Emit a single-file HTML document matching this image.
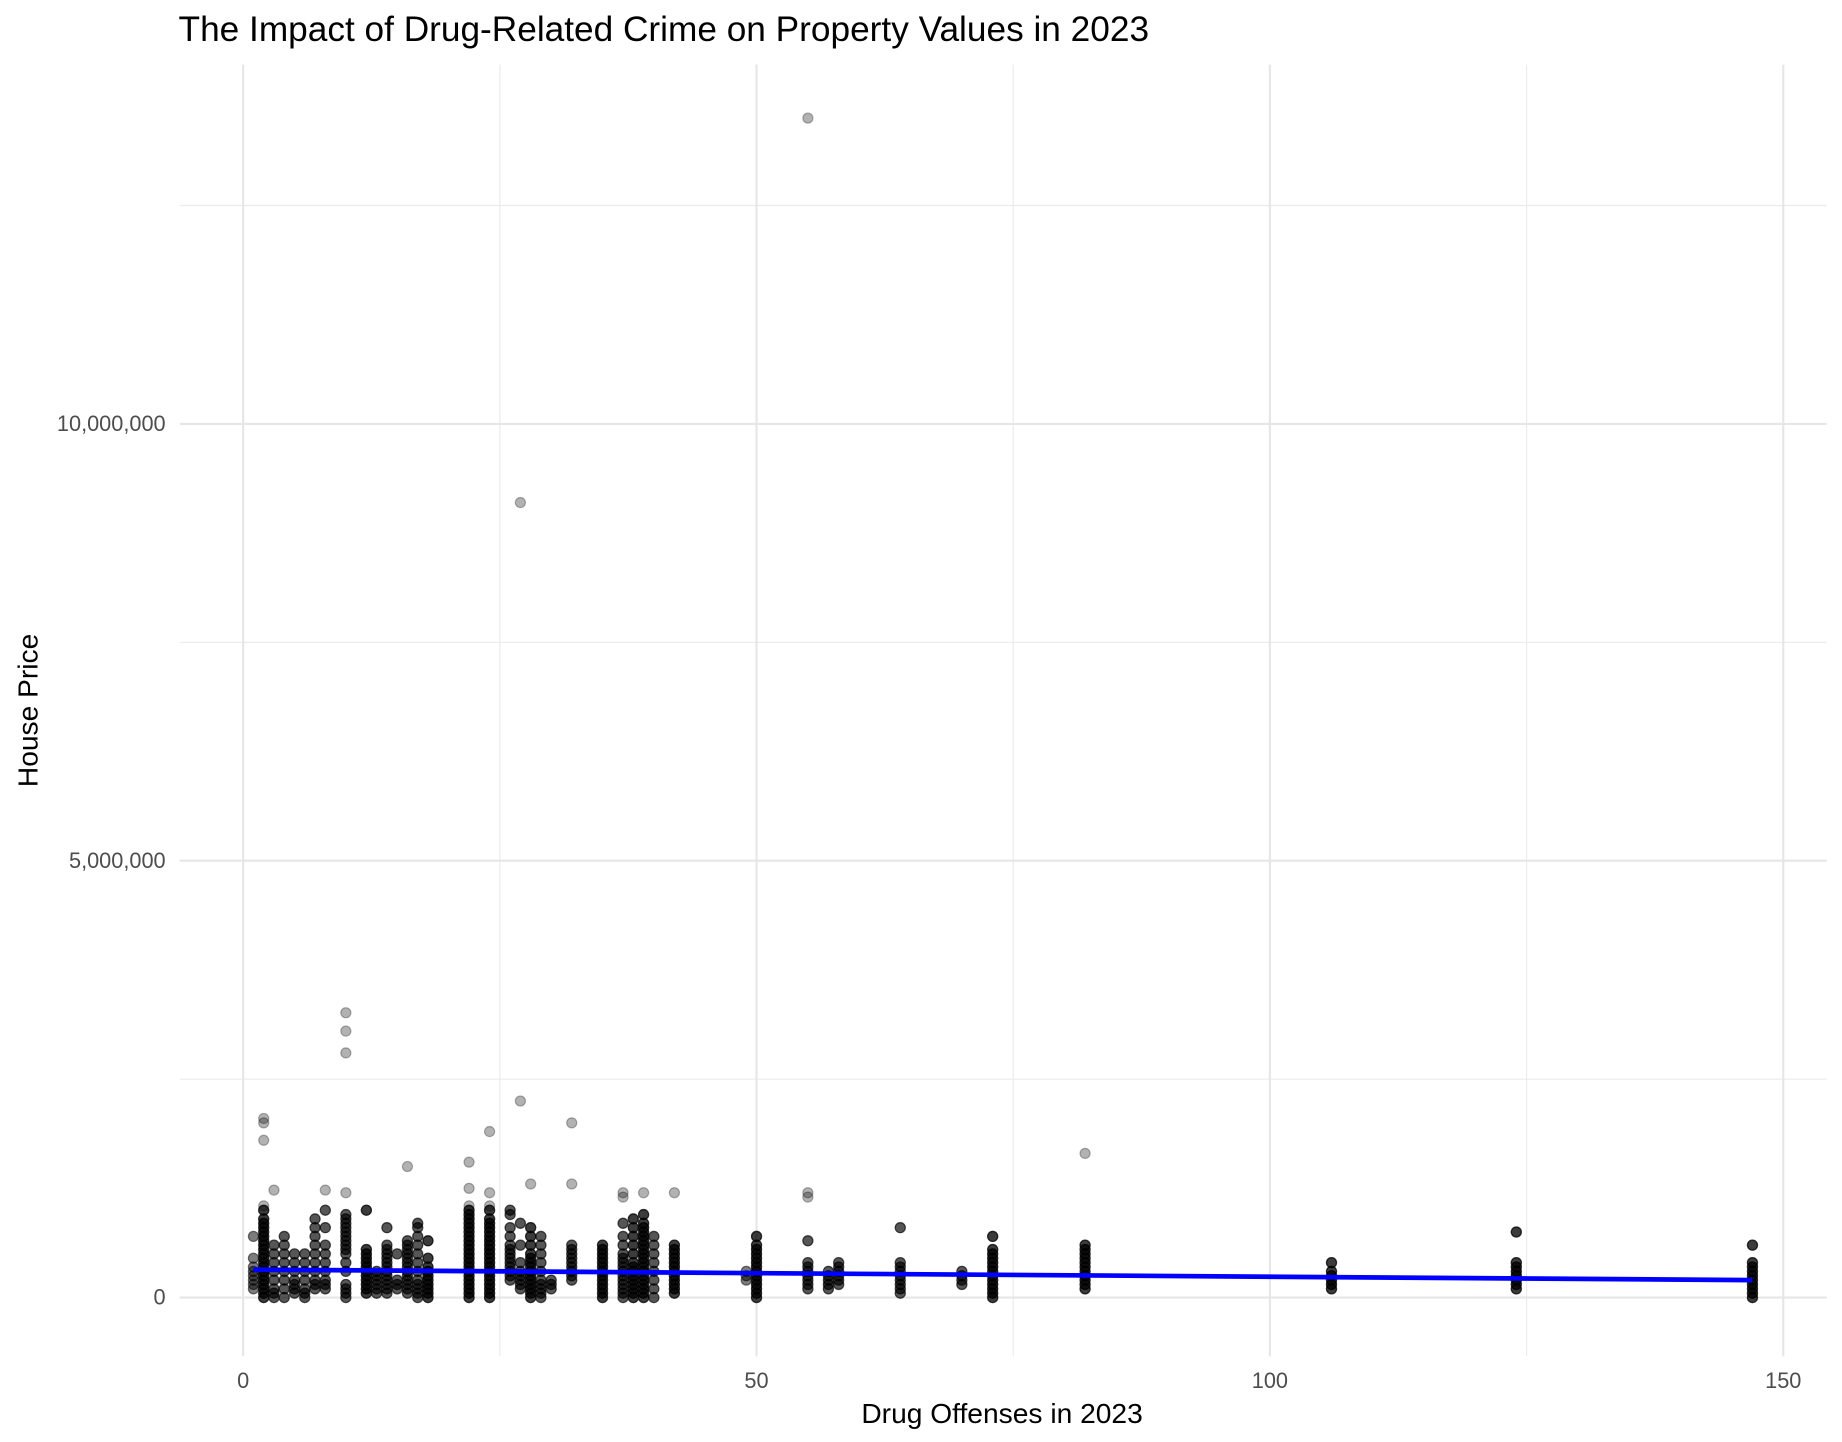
<!DOCTYPE html>
<html><head><meta charset="utf-8"><style>
html,body{margin:0;padding:0;background:#fff;}
svg{display:block;font-family:"Liberation Sans",Arial,sans-serif;}
</style></head><body>
<svg id="chart" width="1842" height="1442" viewBox="0 0 1568 1228" preserveAspectRatio="none" xmlns="http://www.w3.org/2000/svg">
<rect width="1568" height="1228" fill="#fff"/>
<text x="152" y="35" font-size="30" fill="#000">The Impact of Drug-Related Crime on Property Values in 2023</text>
<g id="grid"></g>
<g id="points"></g>
<g id="fit"></g>
<g id="axes"></g>
<text x="853" y="1212" font-size="24" text-anchor="middle" fill="#000">Drug Offenses in 2023</text>
<text transform="translate(32,605) rotate(-90)" font-size="24" text-anchor="middle" fill="#000">House Price</text>
</svg>
<script>
const xTicks = [0, 50, 100, 150];
const xTickLabels = ["0", "50", "100", "150"];
const yTicks = [0, 5, 10];
const yTickLabels = ["0", "5,000,000", "10,000,000"];
const xMinor = [25, 75, 125];
const yMinor = [2.5, 7.5, 12.5];
const offenses = [1,2,3,4,5,6,7,8,10,12,13,14,15,16,17,18,22,24,26,27,28,29,30,32,35,37,38,39,40,42,49,50,55,57,58,64,70,73,82,106,124,147];
const stack = [2,4,3,3,3,3,3,3,3,4,3,3,3,3,3,4,4,4,3,3,4,3,3,3,4,3,4,4,3,4,2,4,3,3,3,3,3,4,4,4,4,4];
const prices = [
[0.1,0.15,0.2,0.25,0.3,0.35,0.45,0.7],
[0,0.05,0.1,0.15,0.2,0.25,0.3,0.35,0.4,0.45,0.5,0.55,0.6,0.65,0.7,0.75,0.8,0.85,0.9,1.0,1.05,1.8,2.0,2.05],
[0,0.05,0.1,0.2,0.3,0.4,0.5,0.6,1.23],
[0,0.1,0.2,0.3,0.4,0.5,0.6,0.7],
[0.05,0.1,0.15,0.2,0.3,0.4,0.5],
[0,0.05,0.1,0.2,0.3,0.4,0.5],
[0.1,0.15,0.2,0.3,0.4,0.5,0.6,0.7,0.8,0.9],
[0.1,0.15,0.2,0.3,0.4,0.5,0.6,0.8,1.0,1.23],
[0,0.05,0.1,0.15,0.3,0.4,0.5,0.55,0.6,0.65,0.7,0.75,0.8,0.85,0.9,0.95,1.2,2.8,3.05,3.26],
[0.05,0.1,0.15,0.2,0.25,0.3,0.35,0.4,0.45,0.5,0.55,1.0],
[0.05,0.1,0.15,0.2,0.25,0.3],
[0.05,0.1,0.15,0.2,0.25,0.3,0.35,0.4,0.45,0.5,0.55,0.6,0.8],
[0.1,0.15,0.2,0.5],
[0.05,0.1,0.15,0.2,0.25,0.3,0.35,0.4,0.45,0.5,0.55,0.6,0.65,1.5],
[0,0.05,0.1,0.15,0.2,0.3,0.4,0.5,0.6,0.7,0.8,0.85],
[0,0.05,0.1,0.15,0.2,0.25,0.3,0.35,0.45,0.65],
[0,0.05,0.1,0.15,0.2,0.25,0.3,0.35,0.4,0.45,0.5,0.55,0.6,0.65,0.7,0.75,0.8,0.85,0.9,0.95,1.0,1.05,1.25,1.55],
[0,0.05,0.1,0.15,0.2,0.25,0.3,0.35,0.4,0.45,0.5,0.55,0.6,0.65,0.7,0.75,0.8,0.85,0.9,1.0,1.05,1.2,1.9],
[0.2,0.25,0.3,0.35,0.4,0.45,0.5,0.55,0.6,0.7,0.8,0.95,1.0],
[0.1,0.15,0.2,0.25,0.3,0.4,0.6,0.85,2.25,9.1],
[0,0.05,0.1,0.15,0.2,0.25,0.3,0.35,0.4,0.45,0.5,0.6,0.7,0.8,1.3],
[0,0.05,0.1,0.15,0.2,0.3,0.4,0.5,0.6,0.7],
[0.1,0.15,0.2],
[0.2,0.25,0.3,0.35,0.4,0.45,0.5,0.55,0.6,1.3,2.0],
[0,0.05,0.1,0.15,0.2,0.25,0.3,0.35,0.4,0.45,0.5,0.55,0.6],
[0,0.05,0.1,0.15,0.2,0.25,0.3,0.35,0.4,0.45,0.5,0.6,0.7,0.85,1.15,1.2],
[0,0.05,0.1,0.15,0.2,0.25,0.3,0.35,0.4,0.5,0.6,0.7,0.8,0.9],
[0,0.05,0.1,0.15,0.2,0.25,0.3,0.35,0.4,0.45,0.5,0.55,0.6,0.65,0.7,0.75,0.8,0.85,0.95,1.2],
[0,0.1,0.2,0.3,0.4,0.5,0.6,0.7],
[0.05,0.1,0.15,0.2,0.25,0.3,0.35,0.4,0.45,0.5,0.55,0.6,1.2],
[0.2,0.25,0.3],
[0,0.05,0.1,0.15,0.2,0.25,0.3,0.35,0.4,0.45,0.5,0.55,0.6,0.7],
[0.1,0.15,0.2,0.25,0.3,0.35,0.4,0.65,1.15,1.2,13.5],
[0.1,0.15,0.2,0.25,0.3],
[0.15,0.2,0.25,0.3,0.35,0.4],
[0.05,0.1,0.15,0.2,0.25,0.3,0.35,0.4,0.8],
[0.15,0.2,0.25,0.3],
[0,0.05,0.1,0.15,0.2,0.25,0.3,0.35,0.4,0.45,0.5,0.55,0.7],
[0.1,0.15,0.2,0.25,0.3,0.35,0.4,0.45,0.5,0.55,0.6,1.65],
[0.1,0.15,0.2,0.25,0.3,0.4],
[0.1,0.15,0.2,0.25,0.3,0.35,0.4,0.75],
[0,0.05,0.1,0.15,0.2,0.25,0.3,0.35,0.4,0.6]
];
const fitX = [1, 147];
const fitY = [0.32, 0.2];

const NS = "http://www.w3.org/2000/svg";
const panel = {left:153, right:1555, top:55, bottom:1155};
function xs(v){ return 207 + (v - 0) * (1518 - 207) / 150; }
function ys(v){ return 1105 - v * (1105 - 361) / 10; }
function mk(tag, attrs, parent){
  const e = document.createElementNS(NS, tag);
  for (const k in attrs) e.setAttribute(k, attrs[k]);
  parent.appendChild(e);
  return e;
}
const grid = document.getElementById('grid');
const axes = document.getElementById('axes');
xMinor.forEach(v => {
  const l = mk('line', {x1:xs(v), x2:xs(v), y1:panel.top, y2:panel.bottom, stroke:'#ebebeb', 'stroke-width':1}, grid);
  
  
});
yMinor.forEach(v => {
  const l = mk('line', {x1:panel.left, x2:panel.right, y1:ys(v), y2:ys(v), stroke:'#ebebeb', 'stroke-width':1}, grid);
  
  
});
xTicks.forEach((v, i) => {
  const l = mk('line', {x1:xs(v), x2:xs(v), y1:panel.top, y2:panel.bottom, stroke:'#e6e6e6', 'stroke-width':1.8}, grid);
  
  
  const t = mk('text', {x:xs(v), y:1182, 'font-size':18.5, 'text-anchor':'middle', fill:'#4d4d4d'}, axes);
  t.textContent = xTickLabels[i];
  
  
});
yTicks.forEach((v, i) => {
  const l = mk('line', {x1:panel.left, x2:panel.right, y1:ys(v), y2:ys(v), stroke:'#e6e6e6', 'stroke-width':1.8}, grid);
  
  
  const t = mk('text', {x:141, y:ys(v) + 6, 'font-size':18.5, 'text-anchor':'end', fill:'#4d4d4d'}, axes);
  t.textContent = yTickLabels[i];
  
  
});
const pts = document.getElementById('points');
offenses.forEach((x, i) => {
  prices[i].forEach(p => {
    const n = p <= 1.0 ? stack[i] : 1;
    for (let k = 0; k < n; k++) {
      const c = mk('circle', {cx:xs(x), cy:ys(p), r:4.3, fill:'rgba(0,0,0,0.3)', stroke:'rgba(0,0,0,0.3)', 'stroke-width':1}, pts);
      
      
    }
  });
});
const fit = document.getElementById('fit');
const fl = mk('line', {x1:xs(fitX[0]), y1:ys(fitY[0]), x2:xs(fitX[1]), y2:ys(fitY[1]), stroke:'#0000ff', 'stroke-width':4}, fit);


</script>
</body></html>
